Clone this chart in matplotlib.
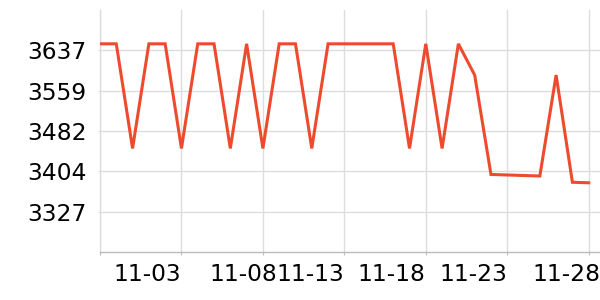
import matplotlib
matplotlib.use("Agg")
import matplotlib.pyplot as plt
import matplotlib.transforms as mtransforms

dates = ["10-29", "10-30", "10-31", "11-01", "11-02", "11-03", "11-04", "11-05",
         "11-06", "11-07", "11-08", "11-09", "11-10", "11-11", "11-12", "11-13",
         "11-14", "11-15", "11-16", "11-17", "11-18", "11-19", "11-20", "11-21",
         "11-22", "11-23", "11-24", "11-25", "11-26", "11-27", "11-28"]
values = [3649, 3649, 3448, 3649, 3649, 3448, 3649, 3649, 3448, 3649, 3448,
          3649, 3649, 3448, 3649, 3649, 3649, 3649, 3649, 3448, 3649, 3448,
          3649, 3589, 3398, 3397, 3396, 3395, 3589, 3383, 3382]
y_ticks = [3326.5, 3404, 3481.5, 3559, 3636.5]
y_tick_labels = ["3327", "3404", "3482", "3559", "3637"]
x_tick_idx = [0, 5, 10, 15, 20, 25, 30]
x_tick_labels = ["", "11-03", "11-08", "11-13", "11-18", "11-23", "11-28"]

fig = plt.figure(figsize=(6, 3), dpi=100)
ax = fig.add_axes([100 / 600, 48 / 300, 500 / 600, 242 / 300])

x = list(range(len(values)))
ax.plot(x, values, color="#ee4a2e", linewidth=2.2, solid_joinstyle="miter", zorder=3)

ax.set_xlim(0, 500 / 16.29)
ax.set_ylim(3249, 3714)

ax.set_yticks(y_ticks)
ax.set_yticklabels(y_tick_labels, fontsize=16.8)
ax.set_xticks(x_tick_idx)
ax.set_xticklabels(x_tick_labels, fontsize=16.8, ha="right")

ax.grid(True, color="#dddddd", linewidth=1)
ax.set_axisbelow(True)

for s in ["top", "right"]:
    ax.spines[s].set_visible(False)
ax.spines["left"].set_color("#dddddd")
ax.spines["bottom"].set_color("#bbbbbb")
ax.spines["left"].set_linewidth(1)
ax.spines["bottom"].set_linewidth(1)

ax.tick_params(axis="y", length=1.5, color="#dddddd", pad=8, labelcolor="black")
ax.tick_params(axis="x", length=2.2, color="#bbbbbb", pad=6, labelcolor="black")

# the reference shifts two labels slightly to the right
shifts = {"11-08": 14, "11-28": 12}
for lbl in ax.get_xticklabels():
    if lbl.get_text() in shifts:
        lbl.set_transform(lbl.get_transform() +
                          mtransforms.ScaledTranslation(shifts[lbl.get_text()] / 100, 0,
                                                        fig.dpi_scale_trans))

fig.savefig("out.png", dpi=100)
